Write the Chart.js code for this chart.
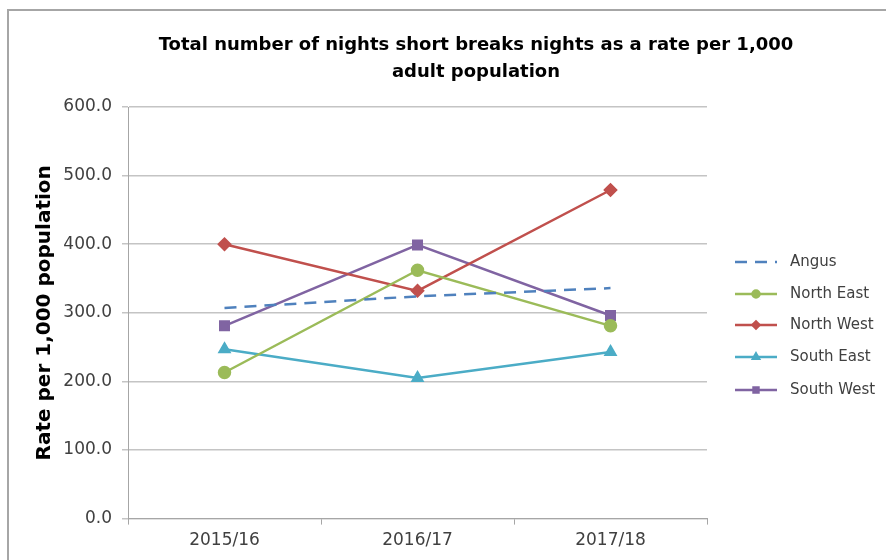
<!DOCTYPE html>
<html>
<head>
<meta charset="utf-8">
<script src="https://cdn.jsdelivr.net/npm/chart.js@4.4.1/dist/chart.umd.min.js"></script>
<style>
  html, body { margin: 0; padding: 0; background: #ffffff; }
  #wrap { position: relative; width: 886px; height: 560px; overflow: hidden; }
  #frame { position: absolute; left: 7px; top: 9px; width: 900px; height: 600px; border: 2px solid #a6a6a6; box-sizing: border-box; }
  canvas { position: absolute; left: 0; top: 0; }
</style>
</head>
<body>
<div id="wrap">
  <div id="frame"></div>
  <canvas id="c" width="886" height="560"></canvas>
</div>
<script>
const categories = ["2015/16", "2016/17", "2017/18"];
const seriesNames = ["Angus", "North East", "North West", "South East", "South West"];
const angus     = [307, 324, 336];
const northEast = [213, 362, 281];
const northWest = [400, 332, 479];
const southEast = [247, 205, 243];
const southWest = [281, 399, 296];
const yTicks = [0, 100, 200, 300, 400, 500, 600];

const titleLines = ["Total number of nights short breaks nights as a rate per 1,000", "adult population"];
const yTitle = "Rate per 1,000 population";

const FONT = "'DejaVu Sans', 'Liberation Sans', Arial, sans-serif";
const colors = ["#4F81BD", "#9BBB59", "#C0504D", "#4BACC6", "#8064A2"];
const markers = [false, "circle", "rectRot", "triangle", "rect"];
const values = [angus, northEast, northWest, southEast, southWest];

const datasets = seriesNames.map((name, i) => ({
  label: name,
  data: values[i],
  borderColor: colors[i],
  backgroundColor: colors[i],
  borderWidth: 2.5,
  borderDash: i === 0 ? [12, 8] : [],
  pointStyle: markers[i] || "circle",
  pointRadius: i === 0 ? 0 : (markers[i] === "rect" ? 6 : 5.5),
  pointHoverRadius: 0,
  tension: 0,
  fill: false
}));

const chartTitle = {
  id: "chartTitle",
  afterDraw(chart) {
    const ctx = chart.ctx;
    ctx.save();
    ctx.fillStyle = "#000000";
    ctx.font = "bold 18px " + FONT;
    ctx.textAlign = "center";
    ctx.textBaseline = "middle";
    const ys = [45, 72];
    titleLines.forEach((t, i) => ctx.fillText(t, 476, ys[i]));
    ctx.restore();
  }
};

const sideLegend = {
  id: "sideLegend",
  afterDraw(chart) {
    const ctx = chart.ctx;
    const x0 = 735, x1 = 777, tx = 790;
    const ys = [262, 294, 325, 357, 390];
    ctx.save();
    chart.data.datasets.forEach((ds, i) => {
      const y = ys[i];
      ctx.strokeStyle = ds.borderColor;
      ctx.lineWidth = 2.5;
      ctx.setLineDash(ds.borderDash || []);
      ctx.beginPath(); ctx.moveTo(x0, y); ctx.lineTo(x1, y); ctx.stroke();
      ctx.setLineDash([]);
      if (ds.pointRadius > 0) {
        Chart.helpers.drawPoint(ctx, { pointStyle: ds.pointStyle, radius: 3.5, borderWidth: 1, rotation: 0 }, (x0 + x1) / 2, y);
        ctx.fillStyle = ds.backgroundColor;
        ctx.fill();
      }
      ctx.fillStyle = "#404040";
      ctx.font = "15px " + FONT;
      ctx.textBaseline = "middle";
      ctx.textAlign = "left";
      ctx.fillText(ds.label, tx, y);
    });
    ctx.restore();
  }
};

new Chart(document.getElementById("c"), {
  type: "line",
  data: { labels: categories, datasets },
  plugins: [chartTitle, sideLegend],
  options: {
    responsive: false,
    animation: false,
    layout: { padding: { left: 10, right: 179, top: 107, bottom: 3 } },
    plugins: {
      legend: { display: false },
      tooltip: { enabled: false },
      title: { display: false }
    },
    scales: {
      x: {
        offset: true,
        grid: { display: true, drawOnChartArea: false, drawTicks: true, tickLength: 6, offset: true, color: "#a6a6a6" },
        border: { display: true, color: "#a6a6a6", width: 1 },
        ticks: { color: "#404040", font: { family: FONT, size: 17 }, padding: 6 }
      },
      y: {
        min: 0, max: 600,
        afterBuildTicks(scale) { scale.ticks = yTicks.map(v => ({ value: v })); },
        grid: { color: "#c4c4c4", lineWidth: 1.5, drawTicks: true, tickLength: 6 },
        border: { display: true, color: "#a6a6a6", width: 1 },
        ticks: {
          color: "#404040",
          font: { family: FONT, size: 17 },
          padding: 10,
          callback: v => Number(v).toFixed(1)
        },
        title: {
          display: true,
          text: yTitle,
          color: "#000000",
          font: { family: FONT, size: 20, weight: "bold" },
          padding: { top: 23, bottom: 0 }
        },
        afterFit(scale) { scale.width = 118; }
      }
    }
  }
});
</script>
</body>
</html>
